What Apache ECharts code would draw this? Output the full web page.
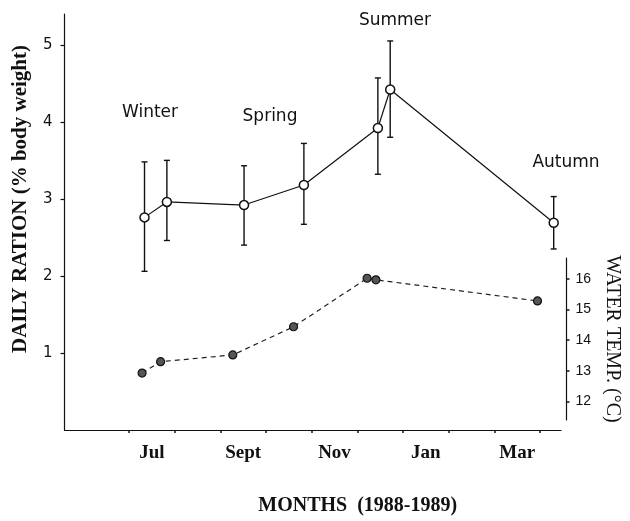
<!DOCTYPE html>
<html>
<head>
<meta charset="utf-8">
<script src="https://cdn.jsdelivr.net/npm/echarts@6/dist/echarts.min.js"></script>
<style>html,body{margin:0;padding:0;background:#fff}#c{width:630px;height:521px}</style>
</head>
<body>
<div id="c"></div>
<script>
// Month axis: 0 = 1 July 1988, 1 = 1 Aug, ... (one unit per month)
const monthTickValues = [0,1,2,3,4,5,6,7,8,9];
const monthLabelValues = [0.5, 2.5, 4.5, 6.5, 8.5];
const monthLabels = ['Jul', 'Sept', 'Nov', 'Jan', 'Mar'];

const rationMonth = [0.34, 0.83, 2.52, 3.83, 5.45, 5.72, 9.30];
const rationMean  = [2.76, 2.96, 2.92, 3.18, 3.92, 4.42, 2.69];
const rationUpper = [3.48, 3.50, 3.43, 3.72, 4.57, 5.05, 3.03];
const rationLower = [2.06, 2.46, 2.40, 2.67, 3.32, 3.80, 2.35];

const tempMonth = [0.35, 0.77, 2.41, 3.79, 5.46, 5.66, 9.33];
const tempValue = [12.93, 13.30, 13.52, 14.44, 16.02, 15.97, 15.28];

const rationTicks = [1, 2, 3, 4, 5];
const tempTicks = [12, 13, 14, 15, 16];

const seasons = ['Winter', 'Spring', 'Summer', 'Autumn'];

const chart = echarts.init(document.getElementById('c'), null, {renderer: 'canvas'});
const XMIN = -1.412, XMAX = 9.46;
const serif = "'Liberation Serif', 'Times New Roman', serif";
const sans = "'DejaVu Sans', sans-serif";

const option = {
  animation: false,
  backgroundColor: '#fff',
  grid: [
    {left: 64.5, right: 69, top: 14, bottom: 84.3},
    {left: 64.5, right: 69, top: 258, height: 162}
  ],
  xAxis: [
    {
      type: 'value', gridIndex: 0, min: XMIN, max: XMAX,
      axisLine: {show: true, onZero: false, lineStyle: {color: '#111', width: 1.2}},
      axisTick: {show: true, customValues: monthTickValues, length: 3, lineStyle: {color: '#111', width: 1.5}},
      axisLabel: {
        show: true, customValues: monthLabelValues, margin: 14,
        formatter: function (v) {
          const i = monthLabelValues.findIndex(m => Math.abs(m - v) < 1e-6);
          return i >= 0 ? monthLabels[i] : '';
        },
        fontFamily: serif, fontWeight: 'bold', fontSize: 19, color: '#111'
      },
      splitLine: {show: false},
      name: 'MONTHS  (1988-1989)', nameLocation: 'middle', nameGap: 66,
      nameTextStyle: {fontFamily: serif, fontWeight: 'bold', fontSize: 20, color: '#111', padding: [0, 0, 0, 90]}
    },
    {type: 'value', gridIndex: 1, min: XMIN, max: XMAX, show: false}
  ],
  yAxis: [
    {
      type: 'value', gridIndex: 0, min: 0, max: 5.4,
      axisLine: {show: true, onZero: false, lineStyle: {color: '#111', width: 1.2}},
      axisTick: {show: true, customValues: rationTicks, length: 4, lineStyle: {color: '#111', width: 1.2}},
      axisLabel: {show: true, customValues: rationTicks, margin: 12, fontFamily: sans, fontSize: 15, color: '#111'},
      splitLine: {show: false}
    },
    {
      type: 'value', gridIndex: 1, min: 11.40, max: 16.68, position: 'right', offset: 23.3,
      axisLine: {show: true, onZero: false, lineStyle: {color: '#111', width: 1.2}},
      axisTick: {show: true, customValues: tempTicks, length: 3, lineStyle: {color: '#111', width: 1.5}},
      axisLabel: {show: true, customValues: tempTicks, margin: 9, fontFamily: "'Liberation Sans Narrow', 'Liberation Sans', sans-serif", fontSize: 14, color: '#111'},
      splitLine: {show: false},
      name: 'WATER TEMP. (°C)', nameLocation: 'middle', nameRotate: -90, nameGap: 27,
      nameTextStyle: {fontFamily: serif, fontSize: 20, color: '#111'}
    }
  ],
  graphic: [
    {type: 'text', x: 21, y: 199, rotation: Math.PI / 2,
     style: {text: 'DAILY RATION (% body weight)', align: 'center', verticalAlign: 'middle',
             font: "bold 21px 'Liberation Serif', serif", fill: '#111'}},
    {type: 'text', x: 150, y: 113, style: {text: seasons[0], align: 'center', verticalAlign: 'middle', font: "17px 'DejaVu Sans', sans-serif", fill: '#111'}},
    {type: 'text', x: 270, y: 117, style: {text: seasons[1], align: 'center', verticalAlign: 'middle', font: "17px 'DejaVu Sans', sans-serif", fill: '#111'}},
    {type: 'text', x: 395, y: 21, style: {text: seasons[2], align: 'center', verticalAlign: 'middle', font: "17px 'DejaVu Sans', sans-serif", fill: '#111'}},
    {type: 'text', x: 566, y: 163, style: {text: seasons[3], align: 'center', verticalAlign: 'middle', font: "17px 'DejaVu Sans', sans-serif", fill: '#111'}}
  ],
  series: [
    {
      type: 'custom', xAxisIndex: 0, yAxisIndex: 0, z: 2,
      data: rationMonth.map((m, i) => [m, rationLower[i], rationUpper[i]]),
      encode: {x: 0, y: [1, 2]},
      renderItem: function (params, api) {
        const x = api.value(0);
        const lo = api.coord([x, api.value(1)]);
        const hi = api.coord([x, api.value(2)]);
        const w = 3;
        const st = {stroke: '#111', lineWidth: 1.4};
        return {type: 'group', children: [
          {type: 'line', shape: {x1: hi[0], y1: hi[1], x2: lo[0], y2: lo[1]}, style: st},
          {type: 'line', shape: {x1: hi[0] - w, y1: hi[1], x2: hi[0] + w, y2: hi[1]}, style: st},
          {type: 'line', shape: {x1: lo[0] - w, y1: lo[1], x2: lo[0] + w, y2: lo[1]}, style: st}
        ]};
      }
    },
    {
      type: 'line', xAxisIndex: 0, yAxisIndex: 0, z: 3,
      data: rationMonth.map((m, i) => [m, rationMean[i]]),
      symbol: 'circle', symbolSize: 9, showAllSymbol: true,
      itemStyle: {color: '#fff', borderColor: '#111', borderWidth: 1.5},
      lineStyle: {color: '#111', width: 1.2}
    },
    {
      type: 'line', xAxisIndex: 1, yAxisIndex: 1, z: 3,
      data: tempMonth.map((m, i) => [m, tempValue[i]]),
      symbol: 'circle', symbolSize: 8, showAllSymbol: true,
      itemStyle: {color: '#555', borderColor: '#111', borderWidth: 1.2},
      lineStyle: {color: '#222', width: 1.2, type: [5, 4]}
    }
  ]
};
chart.setOption(option);
</script>
</body>
</html>
